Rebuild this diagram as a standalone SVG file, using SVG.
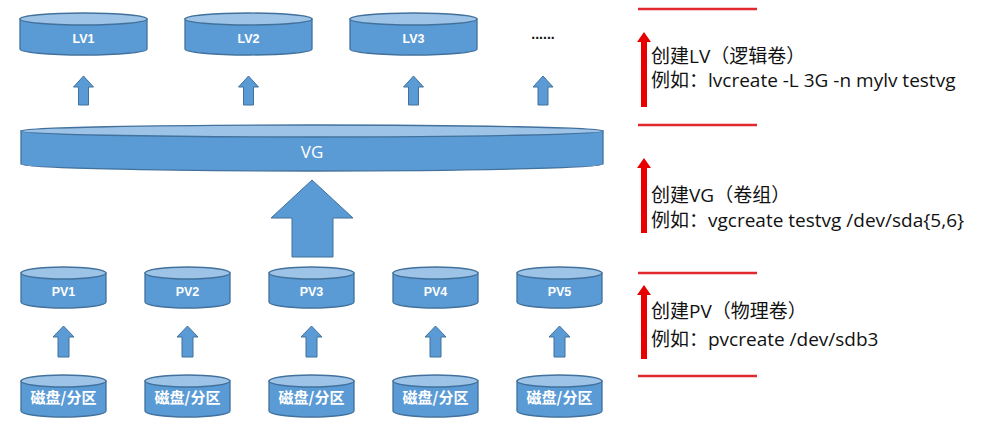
<svg xmlns="http://www.w3.org/2000/svg" width="984" height="433" viewBox="0 0 984 433">
<style>
.body{fill:#5B9BD5;stroke:#41719C;stroke-width:1.3}
.top{fill:#9DC3E6;stroke:#41719C;stroke-width:1.3}
.lbl{font-family:"Liberation Sans",Arial,sans-serif;font-weight:bold;font-size:12.5px;fill:#fff;text-anchor:middle}
.vg{font-family:"Open Sans","Liberation Sans",sans-serif;font-size:17px;fill:#fff;text-anchor:middle}
.disk{font-family:"Noto Sans CJK SC",sans-serif;font-weight:bold;font-size:15px;fill:#fff;text-anchor:middle}
.arr{fill:#5B9BD5;stroke:#41719C;stroke-width:1}
.red{stroke:#E0282E;stroke-width:2.5}
.rarr{fill:#E80000}
.note{font-family:"Open Sans","Noto Sans CJK SC",sans-serif;font-size:19px;fill:#111}
</style>
<rect width="984" height="433" fill="#fff"/>

<!-- LV nodes -->
<g id="lv1"><path class="body" d="M20,19 L20,49 A63.5,6 0 0 0 147,49 L147,19 Z"/><ellipse class="top" cx="83.5" cy="19" rx="63.5" ry="6"/><text class="lbl" x="83.5" y="43">LV1</text></g>
<g id="lv2"><path class="body" d="M185,19 L185,49 A63.5,6 0 0 0 312,49 L312,19 Z"/><ellipse class="top" cx="248.5" cy="19" rx="63.5" ry="6"/><text class="lbl" x="248.5" y="43">LV2</text></g>
<g id="lv3"><path class="body" d="M350,19 L350,49 A63.5,6 0 0 0 477,49 L477,19 Z"/><ellipse class="top" cx="413.5" cy="19" rx="63.5" ry="6"/><text class="lbl" x="413.5" y="43">LV3</text></g>
<g id="lvmore"><text x="543" y="39" font-family="Liberation Sans,sans-serif" font-size="14" fill="#111" text-anchor="middle" font-weight="bold">......</text></g>

<!-- VG -->
<g id="vg"><path class="body" d="M21,131 L21,164 A291,7 0 0 0 603,164 L603,131 Z"/><ellipse class="top" cx="312" cy="131" rx="291" ry="6"/><text class="vg" x="312" y="158">VG</text></g>

<!-- PV nodes -->
<g id="pv1"><path class="body" d="M21,273 L21,302 A42.5,6 0 0 0 106,302 L106,273 Z"/><ellipse class="top" cx="63.5" cy="273" rx="42.5" ry="6"/><text class="lbl" x="63.5" y="296">PV1</text></g>
<g id="pv2"><path class="body" d="M145,273 L145,302 A42.5,6 0 0 0 230,302 L230,273 Z"/><ellipse class="top" cx="187.5" cy="273" rx="42.5" ry="6"/><text class="lbl" x="187.5" y="296">PV2</text></g>
<g id="pv3"><path class="body" d="M269,273 L269,302 A42.5,6 0 0 0 354,302 L354,273 Z"/><ellipse class="top" cx="311.5" cy="273" rx="42.5" ry="6"/><text class="lbl" x="311.5" y="296">PV3</text></g>
<g id="pv4"><path class="body" d="M393,273 L393,302 A42.5,6 0 0 0 478,302 L478,273 Z"/><ellipse class="top" cx="435.5" cy="273" rx="42.5" ry="6"/><text class="lbl" x="435.5" y="296">PV4</text></g>
<g id="pv5"><path class="body" d="M517,273 L517,302 A42.5,6 0 0 0 602,302 L602,273 Z"/><ellipse class="top" cx="559.5" cy="273" rx="42.5" ry="6"/><text class="lbl" x="559.5" y="296">PV5</text></g>

<!-- Disk nodes -->
<g id="disk1"><path class="body" d="M21,381 L21,411 A42.5,6 0 0 0 106,411 L106,381 Z"/><ellipse class="top" cx="63.5" cy="381" rx="42.5" ry="6"/><text class="disk" x="63.5" y="403">磁盘/分区</text></g>
<g id="disk2"><path class="body" d="M145,381 L145,411 A42.5,6 0 0 0 230,411 L230,381 Z"/><ellipse class="top" cx="187.5" cy="381" rx="42.5" ry="6"/><text class="disk" x="187.5" y="403">磁盘/分区</text></g>
<g id="disk3"><path class="body" d="M269,381 L269,411 A42.5,6 0 0 0 354,411 L354,381 Z"/><ellipse class="top" cx="311.5" cy="381" rx="42.5" ry="6"/><text class="disk" x="311.5" y="403">磁盘/分区</text></g>
<g id="disk4"><path class="body" d="M393,381 L393,411 A42.5,6 0 0 0 478,411 L478,381 Z"/><ellipse class="top" cx="435.5" cy="381" rx="42.5" ry="6"/><text class="disk" x="435.5" y="403">磁盘/分区</text></g>
<g id="disk5"><path class="body" d="M517,381 L517,411 A42.5,6 0 0 0 602,411 L602,381 Z"/><ellipse class="top" cx="559.5" cy="381" rx="42.5" ry="6"/><text class="disk" x="559.5" y="403">磁盘/分区</text></g>

<!-- Connectors -->
<g id="connectors">
<path class="arr" d="M83.5,76 L93.5,87 L88.5,87 L88.5,105 L78.5,105 L78.5,87 L73.5,87 Z"/>
<path class="arr" d="M248.5,76 L258.5,87 L253.5,87 L253.5,105 L243.5,105 L243.5,87 L238.5,87 Z"/>
<path class="arr" d="M413.5,76 L423.5,87 L418.5,87 L418.5,105 L408.5,105 L408.5,87 L403.5,87 Z"/>
<path class="arr" d="M543,76 L553,87 L548,87 L548,105 L538,105 L538,87 L533,87 Z"/>
<path class="arr" d="M312,180 L353,218 L333,218 L333,257 L292,257 L292,218 L271,218 Z"/>
<path class="arr" d="M63.5,326 L74,337 L69,337 L69,357 L58,357 L58,337 L53,337 Z"/>
<path class="arr" d="M187.5,326 L198,337 L193,337 L193,357 L182,357 L182,337 L177,337 Z"/>
<path class="arr" d="M311.5,326 L322,337 L317,337 L317,357 L306,357 L306,337 L301,337 Z"/>
<path class="arr" d="M435.5,326 L446,337 L441,337 L441,357 L430,357 L430,337 L425,337 Z"/>
<path class="arr" d="M559.5,326 L570,337 L565,337 L565,357 L554,357 L554,337 L549,337 Z"/>
</g>

<!-- Right annotations -->
<g id="annotations">
<line class="red" x1="638" y1="9" x2="757" y2="9"/>
<line class="red" x1="638" y1="125" x2="757" y2="125"/>
<line class="red" x1="638" y1="273" x2="757" y2="273"/>
<line class="red" x1="638" y1="376" x2="757" y2="376"/>
<path class="rarr" d="M644,32 L651,42 L647,42 L647,107 L641,107 L641,42 L637,42 Z"/>
<path class="rarr" d="M644,158 L651,168 L647,168 L647,233 L641,233 L641,168 L637,168 Z"/>
<path class="rarr" d="M644,285 L651,295 L647,295 L647,359 L641,359 L641,295 L637,295 Z"/>
<text class="note" x="651" y="63">创建LV（逻辑卷）</text>
<text class="note" x="651" y="87">例如：lvcreate -L 3G -n mylv testvg</text>
<text class="note" x="651" y="202">创建VG（卷组）</text>
<text class="note" x="651" y="227">例如：vgcreate testvg /dev/sda{5,6}</text>
<text class="note" x="651" y="318">创建PV（物理卷）</text>
<text class="note" x="651" y="346">例如：pvcreate /dev/sdb3</text>
</g>
</svg>
